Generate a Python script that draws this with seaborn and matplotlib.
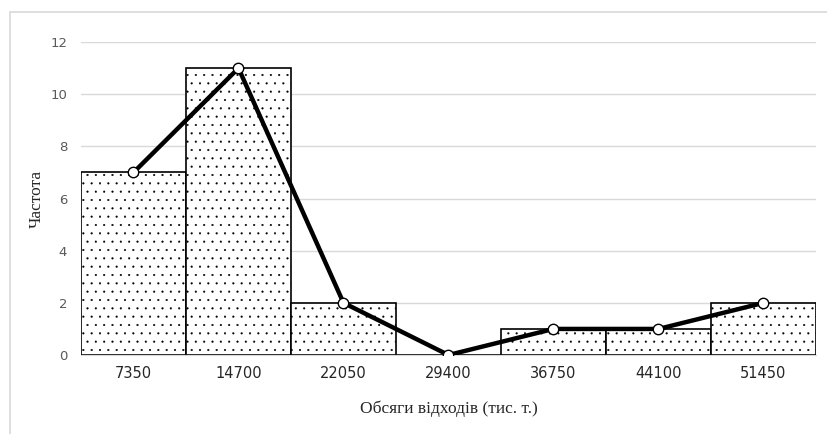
import pandas as pd
import matplotlib.pyplot as plt
import matplotlib.patches as mpatches
import seaborn as sns

# interval midpoints (thousand tonnes) and frequencies
volumes = ["7350", "14700", "22050", "29400", "36750", "44100", "51450"]
freq = [7, 11, 2, 0, 1, 1, 2]

df = pd.DataFrame({"volume": volumes, "freq": freq})

sns.set_style("white")
plt.rcParams["hatch.color"] = "#a6a6a6"
plt.rcParams["hatch.linewidth"] = 0.3

fig = plt.figure(figsize=(8.28, 4.34), dpi=100)
ax = fig.add_axes([0.0978, 0.182, 0.8877, 0.721])

sns.barplot(data=df, x="volume", y="freq", color="white", width=1.0,
            edgecolor="black", linewidth=1.2, ax=ax, zorder=2)
for p in ax.patches:
    p.set_hatch("..")

sns.lineplot(data=df, x="volume", y="freq", color="black", linewidth=3.2,
             marker="o", markersize=7.5, markerfacecolor="white",
             markeredgecolor="black", markeredgewidth=1, ax=ax, zorder=4)

ax.set_ylim(0, 12)
ax.set_xlim(-0.5, 6.5)
ax.set_yticks([0, 2, 4, 6, 8, 10, 12])
ax.yaxis.grid(True, color="#d9d9d9", linewidth=1)
ax.set_axisbelow(True)
for s in ["top", "right", "left"]:
    ax.spines[s].set_visible(False)
ax.spines["bottom"].set_color("#d9d9d9")
ax.tick_params(axis="y", length=0, labelsize=9.5, labelcolor="#595959", pad=10)
ax.tick_params(axis="x", length=0, labelsize=10.5, labelcolor="#262626", pad=8)

ax.set_xlabel("Обсяги відходів (тис. т.)", fontsize=12.5,
              family="Liberation Serif", labelpad=14)
ax.set_ylabel("Частота", fontsize=12.5, family="Liberation Serif", labelpad=4)

# outer frame of the chart area
fig.patches.append(mpatches.Rectangle((10 / 828, -0.05), 1.0, 1 - 12 / 434 + 0.05,
                                      transform=fig.transFigure, fill=False,
                                      edgecolor="#d9d9d9", linewidth=1.2))

plt.savefig("out.png", dpi=100)
